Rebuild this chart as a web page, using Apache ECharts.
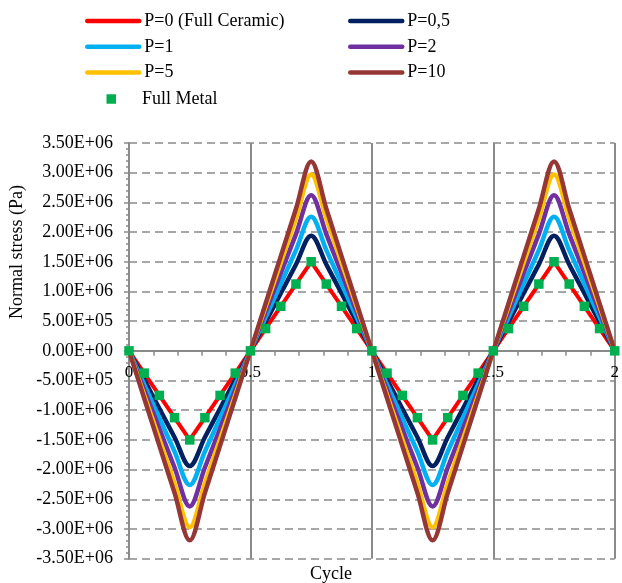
<!DOCTYPE html>
<html>
<head>
<meta charset="utf-8">
<script src="https://cdn.jsdelivr.net/npm/echarts@6/dist/echarts.min.js"></script>
<style>
html,body{margin:0;padding:0;background:#fff;}
#chart{width:622px;height:583px;}
</style>
</head>
<body>
<div id="chart"></div>
<script>
// Cycle positions (every 1/16 cycle)
var cycle = [0,0.0625,0.125,0.1875,0.25,0.3125,0.375,0.4375,0.5,0.5625,0.625,0.6875,0.75,0.8125,0.875,0.9375,1,
             1.0625,1.125,1.1875,1.25,1.3125,1.375,1.4375,1.5,1.5625,1.625,1.6875,1.75,1.8125,1.875,1.9375,2];

var p0 = [0,-375000,-750000,-1125000,-1500000,-1125000,-750000,-375000,0,375000,750000,1125000,1500000,1125000,750000,375000,0,
          -375000,-750000,-1125000,-1500000,-1125000,-750000,-375000,0,375000,750000,1125000,1500000,1125000,750000,375000,0];
var p05 = [0,-485000,-970000,-1455000,-1940000,-1455000,-970000,-485000,0,485000,970000,1455000,1940000,1455000,970000,485000,0,
           -485000,-970000,-1455000,-1940000,-1455000,-970000,-485000,0,485000,970000,1455000,1940000,1455000,970000,485000,0];
var p1 = [0,-565000,-1130000,-1695000,-2260000,-1695000,-1130000,-565000,0,565000,1130000,1695000,2260000,1695000,1130000,565000,0,
          -565000,-1130000,-1695000,-2260000,-1695000,-1130000,-565000,0,565000,1130000,1695000,2260000,1695000,1130000,565000,0];
var p2 = [0,-655000,-1310000,-1965000,-2620000,-1965000,-1310000,-655000,0,655000,1310000,1965000,2620000,1965000,1310000,655000,0,
          -655000,-1310000,-1965000,-2620000,-1965000,-1310000,-655000,0,655000,1310000,1965000,2620000,1965000,1310000,655000,0];
var p5 = [0,-742500,-1485000,-2227500,-2970000,-2227500,-1485000,-742500,0,742500,1485000,2227500,2970000,2227500,1485000,742500,0,
          -742500,-1485000,-2227500,-2970000,-2227500,-1485000,-742500,0,742500,1485000,2227500,2970000,2227500,1485000,742500,0];
var p10 = [0,-797500,-1595000,-2392500,-3190000,-2392500,-1595000,-797500,0,797500,1595000,2392500,3190000,2392500,1595000,797500,0,
           -797500,-1595000,-2392500,-3190000,-2392500,-1595000,-797500,0,797500,1595000,2392500,3190000,2392500,1595000,797500,0];
var fullMetal = [0,-375000,-750000,-1125000,-1500000,-1125000,-750000,-375000,0,375000,750000,1125000,1500000,1125000,750000,375000,0,
                 -375000,-750000,-1125000,-1500000,-1125000,-750000,-375000,0,375000,750000,1125000,1500000,1125000,750000,375000,0];

var seriesNames = ['P=0 (Full Ceramic)','P=0,5','P=1','P=2','P=5','P=10','Full Metal'];
var xTickLabels = ['0','0.5','1','1.5','2'];

function pairs(xs, ys){ return xs.map(function(x,i){ return [x, ys[i]]; }); }
function sci(v){
  if (v === 0) return '0.00E+00';
  var s = v < 0 ? '-' : '';
  var a = Math.abs(v);
  var e = Math.floor(Math.log10(a) + 1e-9);
  var m = a / Math.pow(10, e);
  return s + m.toFixed(2) + 'E' + (e >= 0 ? '+' : '-') + String(Math.abs(e)).padStart(2, '0');
}

var FONT = 'Liberation Serif, Times New Roman, serif';
var GRAY = '#8a8a8a';
var H = 583, TOP = 143, BOTTOM = 24.3;

var chart = echarts.init(document.getElementById('chart'), null, {renderer:'canvas'});
function lineSeries(name, data, color, width, smooth){
  return {
    name: name, type: 'line', data: pairs(cycle, data), smooth: smooth,
    symbol: 'none', showSymbol: false,
    lineStyle: {color: color, width: width, cap: 'round', join: 'round'},
    itemStyle: {color: 'rgba(0,0,0,0)', borderWidth: 0, opacity: 0},
    emphasis: {disabled: true}
  };
}
var legendText = {fontFamily: FONT, fontSize: 18, color: '#000', lineHeight: 18};
var legendLine = {width: 4.5, cap: 'round'};
chart.setOption({
  animation: false,
  legend: [
    {data: [seriesNames[0], seriesNames[2], seriesNames[4]], orient: 'vertical', left: 85, top: 12, padding: 0,
     itemWidth: 52, itemHeight: 14, itemGap: 7.8, textStyle: legendText, lineStyle: legendLine,
     itemStyle: {opacity: 0}, selectedMode: false},
    {data: [seriesNames[1], seriesNames[3], seriesNames[5]], orient: 'vertical', left: 348, top: 12, padding: 0,
     itemWidth: 52, itemHeight: 14, itemGap: 7.8, textStyle: legendText, lineStyle: legendLine,
     itemStyle: {opacity: 0}, selectedMode: false},
    {data: [{name: seriesNames[6], icon: 'rect'}], orient: 'vertical', left: 106.5, top: 90, padding: 0,
     itemWidth: 9.5, itemHeight: 9.5, itemStyle: {opacity: 1},
     textStyle: Object.assign({}, legendText, {padding: [0,0,0,21]}), selectedMode: false}
  ],
  grid: {left: 129, right: 1.5, top: TOP, bottom: BOTTOM, containLabel: false},
  xAxis: {
    type: 'value', min: 0, max: 2, interval: 0.5, position: 'bottom',
    offset: -((H - TOP - BOTTOM) / 2),
    axisLine: {show: true, onZero: false, lineStyle: {color: GRAY, width: 2}},
    axisTick: {show: true, length: 5, lineStyle: {color: GRAY, width: 1.5}},
    minorTick: {show: true, splitNumber: 5, length: 5, lineStyle: {color: GRAY, width: 1.5}},
    axisLabel: {fontFamily: FONT, fontSize: 17, color: '#000', margin: 13,
      formatter: function(v){ var i = Math.round(v / 0.5); return xTickLabels[i] !== undefined ? xTickLabels[i] : ''; }},
    splitLine: {show: true, lineStyle: {color: GRAY, width: 2, type: 'solid'}}
  },
  yAxis: {
    type: 'value', min: -3500000, max: 3500000, interval: 500000,
    axisLine: {show: true, onZero: false, lineStyle: {color: GRAY, width: 2}},
    axisTick: {show: true, length: 5, lineStyle: {color: GRAY, width: 1.5}},
    minorTick: {show: true, splitNumber: 5, length: 3, lineStyle: {color: GRAY, width: 1.5}},
    axisLabel: {fontFamily: FONT, fontSize: 18, color: '#000', margin: 16, formatter: sci},
    splitLine: {show: true, lineStyle: {color: GRAY, width: 1.5, type: [8, 5]}}
  },
  graphic: [
    {type: 'text', left: 8, top: 185, rotation: Math.PI / 2,
     style: {text: 'Normal stress (Pa)', font: '18px ' + FONT, fill: '#000'}},
    {type: 'text', left: 310, top: 565,
     style: {text: 'Cycle', font: '18px ' + FONT, fill: '#000'}}
  ],
  series: [
    lineSeries(seriesNames[0], p0, '#FF0000', 4, false),
    lineSeries(seriesNames[1], p05, '#002060', 4.5, 0.35),
    lineSeries(seriesNames[2], p1, '#00B0F0', 4.5, 0.35),
    lineSeries(seriesNames[3], p2, '#7030A0', 4.5, 0.35),
    lineSeries(seriesNames[4], p5, '#FFC000', 4.5, 0.35),
    lineSeries(seriesNames[5], p10, '#953735', 4.5, 0.35),
    {name: seriesNames[6], type: 'scatter', data: pairs(cycle, fullMetal), symbol: 'rect', symbolSize: 9.5,
     itemStyle: {color: '#00B050', opacity: 1}, emphasis: {disabled: true}, z: 5}
  ]
});
</script>
</body>
</html>
